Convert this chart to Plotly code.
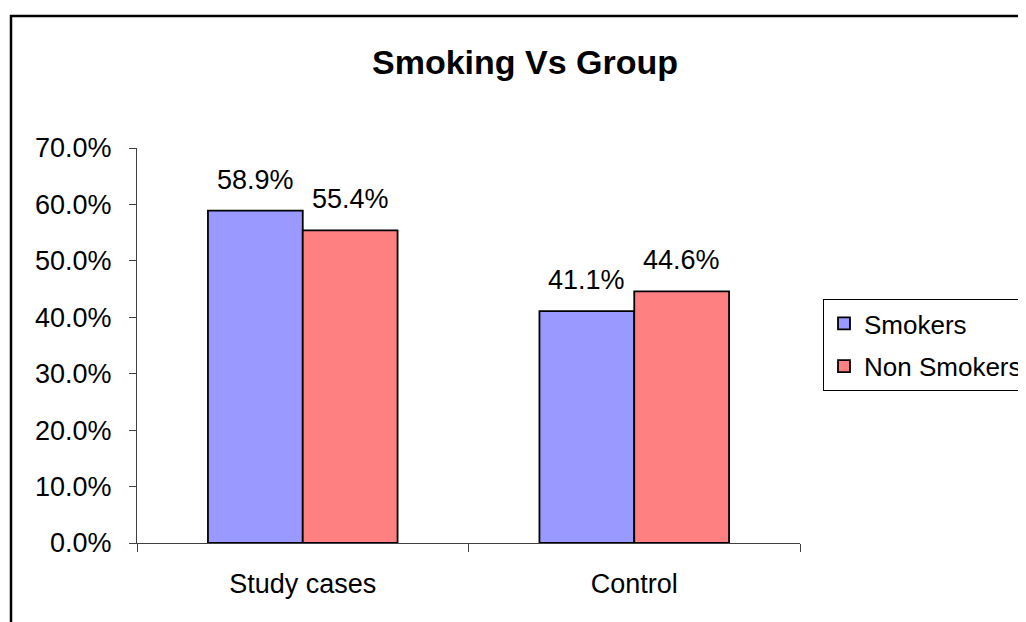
import plotly.graph_objects as go

categories = ["Study cases", "Control"]
smokers = [0.589, 0.411]
non_smokers = [0.554, 0.446]
series_names = ["Smokers", "Non Smokers"]
tick_vals = [0.0, 0.1, 0.2, 0.3, 0.4, 0.5, 0.6, 0.7]
tick_text = ["0.0%", "10.0%", "20.0%", "30.0%", "40.0%", "50.0%", "60.0%", "70.0%"]

FONT = "Liberation Sans, Arial, sans-serif"
OFF = 8  # page body margin
W, H = 1026 - OFF, 622 - OFF
L, R, T, B = 137 - OFF, 800 - OFF, 148 - OFF, 543 - OFF

fig = go.Figure()
colors = ["#9999FF", "#FF8080"]
shifts = [-47.5, 47.5]
for k, (name, vals) in enumerate([(series_names[0], smokers), (series_names[1], non_smokers)]):
    fig.add_trace(go.Bar(
        x=categories, y=vals, name=name, legendgroup=name,
        marker=dict(color=colors[k], line=dict(color="black", width=1.8)),
    ))
    for c, v in zip(categories, vals):
        fig.add_annotation(x=c, y=v, xref="x", yref="y", text=f"{v:.1%}",
                           showarrow=False, xshift=shifts[k], yshift=14,
                           yanchor="bottom", xanchor="center",
                           font=dict(family=FONT, size=27, color="black"))

pw = R - L
ph = B - T
fig.update_layout(
    width=W, height=H,
    margin=dict(l=L, r=W - R, t=T, b=H - B, autoexpand=False),
    paper_bgcolor="white", plot_bgcolor="white",
    font=dict(family=FONT, size=27, color="black"),
    barmode="group", bargap=0.428, bargroupgap=0,
    title=dict(text="<b>Smoking Vs Group</b>", x=(525 - OFF) / W, xref="container",
               xanchor="center", y=1 - (62 - OFF) / H, yref="container", yanchor="middle",
               font=dict(family=FONT, size=34, color="black")),
    xaxis=dict(showgrid=False, showline=True, linecolor="#404040", linewidth=1,
               ticks="outside", tickson="boundaries", ticklen=8, tickcolor="#404040",
               ticklabelstandoff=17, tickfont=dict(size=27)),
    yaxis=dict(range=[0, 0.7], tickvals=tick_vals, ticktext=tick_text,
               showgrid=False, zeroline=False, showline=True, linecolor="#404040",
               linewidth=1, ticks="outside", ticklen=7, tickcolor="#404040",
               ticklabelstandoff=12, tickfont=dict(size=27)),
    legend=dict(x=(823 - 137) / pw, xanchor="left", y=(543 - 345) / ph, yanchor="middle",
                bordercolor="black", borderwidth=1, bgcolor="white",
                traceorder="grouped", tracegroupgap=6,
                font=dict(family=FONT, size=26, color="black")),
    shapes=[dict(type="rect", xref="paper", yref="paper",
                 x0=(11 - 137) / pw, x1=(1100 - 137) / pw,
                 y0=(543 - 700) / ph, y1=(543 - 16) / ph,
                 line=dict(color="black", width=2.5), layer="below")],
)
fig.write_html("out.html")
